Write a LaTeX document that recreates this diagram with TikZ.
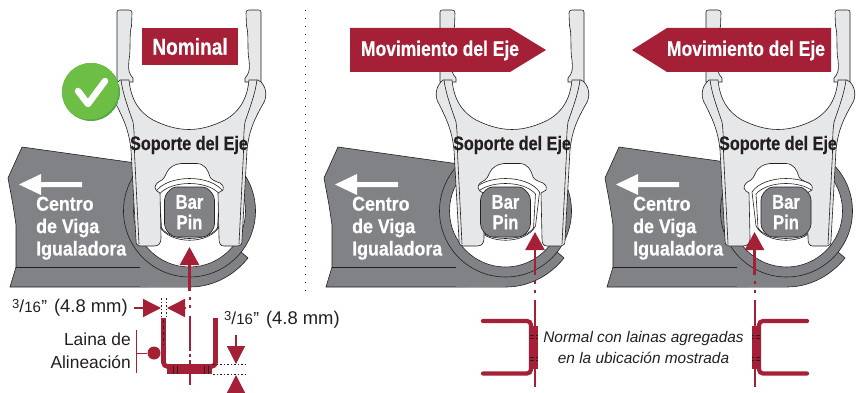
\documentclass[tikz,border=0pt]{standalone}
\usepackage{fontspec}
\setmainfont{Liberation Sans}
\newfontfamily\condfont[FakeStretch=0.83, BoldFeatures={FakeBold=0.5}]{Liberation Sans}
\newfontfamily\anchofont[FakeStretch=0.89, BoldFeatures={FakeBold=0.5}]{Liberation Sans}
\usetikzlibrary{arrows.meta}
\definecolor{rojoeje}{HTML}{A51F36}
\definecolor{grisviga}{HTML}{808285}
\definecolor{grissoporte}{HTML}{E6E7E8}
\definecolor{tinta}{HTML}{231F20}
\definecolor{verdeok}{HTML}{6DBE45}
\definecolor{verdeosc}{HTML}{54A845}
\newcommand{\espesor}{\raisebox{4pt}{\fontsize{13}{13}\selectfont 3}/{\fontsize{15}{13}\selectfont 16}\kern0.5pt{"}\kern2pt{} {\fontsize{18.4}{23}\selectfont (4.8 mm)}}
\tikzset{
    linea/.style={draw=tinta, line width=0.6pt},
    flecha/.style={draw=rojoeje, line width=2.4pt, -{Triangle[length=18pt,width=19pt]}},
    cota/.style={draw=rojoeje, line width=1.4pt, -{Triangle[length=18pt,width=18pt]}},
    eje/.style={draw=rojoeje, line width=2pt},
    puntos/.style={draw=tinta, line width=0.7pt, dash pattern=on 1.5pt off 2pt},
    blanco/.style={font=\condfont\fontsize{20}{20}\selectfont\bfseries, text=white, inner sep=0pt},
    banner/.style={font=\condfont\fontsize{21}{22}\selectfont\bfseries, text=white, inner sep=0pt},
    medida/.style={font=\fontsize{17.4}{23}\selectfont, text=tinta, inner sep=0pt},
    pics/viga/.style={code={
        \fill[grisviga] (22,147) -- (150,165) -- (150,287) -- (10,287) -- (16,267)
            -- (16,225) -- (13,205) -- (8,178) -- cycle;
        \draw[linea] (150,165) -- (22,147) -- (8,178) -- (13,205) -- (16,225) -- (16,267) -- (10,287) -- (190,287);
        \draw[linea] (16,267) -- (150,267);
        \fill[grisviga] (241,252) -- (248,258) .. controls (232,278) and (210,287) .. (190,287)
            -- (140,287) -- (140,262) -- cycle;
        \draw[linea] (241,252) -- (248,258) .. controls (232,278) and (210,287) .. (190,287);
        \fill[grisviga, linea] (189.5,211) circle[radius=66];
        \fill[white, linea] (189.5,211) circle[radius=56];
        \fill[white] (41,174) -- (19,184.5) -- (41,195) -- (41,187) -- (82,187) -- (82,182) -- (41,182) -- cycle;
        \node[font=\anchofont\fontsize{20}{20}\selectfont\bfseries, text=white, inner sep=0pt, anchor=north west, align=left] (viga) at (36,196.5) {Centro\\[2.4pt]de Viga\\[2.4pt]Igualadora};
    }},
    pics/soporte/.style={code={
        % horquilla superior
        \foreach \lado in {-1,1}{
            \fill[grissoporte, linea] (\lado*72,82) -- (\lado*72,12) .. controls (\lado*72,10.5) and (\lado*71,10) .. (\lado*69,10)
                -- (\lado*60,10) .. controls (\lado*58,10) and (\lado*57,11) .. (\lado*57,13) -- (\lado*57.5,26)
                .. controls (\lado*60,34) and (\lado*58,50) .. (\lado*60,60) .. controls (\lado*61,70) and (\lado*60,74) .. (\lado*56,78)
                -- (\lado*56,82) -- cycle;
        }
        \fill[grissoporte, linea] (-60,80) .. controls (-58,100) and (-50,112) .. (-36,120)
            .. controls (-24,126) and (-12,129.5) .. (0,129.5) .. controls (12,129.5) and (24,126) .. (36,120)
            .. controls (50,112) and (58,100) .. (60,80) -- (69,80) -- (72,82)
            .. controls (78,88) and (78,98) .. (74,104) .. controls (66,118) and (60,130) .. (58,150)
            -- (53,240) .. controls (53,244) and (52,246) .. (49,246) -- (35,246) .. controls (31,246) and (30,243) .. (30,238)
            -- (29,193) -- (34,190) .. controls (35,186) and (33,184) .. (31,183) .. controls (25,181) and (22,179) .. (21,177)
            .. controls (19,170) and (16,164) .. (8,163.5) -- (-8,163.5) .. controls (-15,164) and (-20,168) .. (-22,172)
            .. controls (-24,176) and (-25,179) .. (-27,180) .. controls (-31,182) and (-34,184) .. (-34,188)
            .. controls (-34,190) and (-31,192) .. (-29,193) -- (-28,238) .. controls (-28,243) and (-30,246) .. (-35,246)
            -- (-49,246) .. controls (-52,246) and (-53,244) .. (-53,240) -- (-58,150)
            .. controls (-60,130) and (-66,118) .. (-73,104) .. controls (-77,98) and (-77,88) .. (-71,82)
            -- (-69,80) -- cycle;
        \foreach \lado in {-1,1}{
            \draw[linea] (\lado*68,80) .. controls (\lado*66,95) and (\lado*60,110) .. (\lado*56,122)
                .. controls (\lado*54,135) and (\lado*55,150) .. (\lado*54,163) -- (\lado*50,244);
        }
        \node[font=\condfont\fontsize{19.5}{20}\selectfont\bfseries, text=tinta, inner sep=0pt] (etiqueta) at (0,145) {Soporte del Eje};
    }},
    pics/anillo/.style={code={
        \fill[white, linea] (-34,-20) .. controls (-22,-38) and (22,-38) .. (34,-20) -- (30,14)
            .. controls (20,33) and (-20,33) .. (-30,14) -- cycle;
        \fill[white, linea] (-30,-18) .. controls (-18,-32) and (18,-32) .. (30,-18) -- (28,16)
            .. controls (18,30) and (-18,30) .. (-28,16) -- cycle;
    }},
    pics/barpin/.style={code={
        \fill[grisviga, linea, rounded corners=4pt] (-17,-25) -- (17,-25) -- (25,-16) -- (25,16) -- (17,25)
            -- (-17,25) -- (-25,16) -- (-25,-16) -- cycle;
        \node[blanco] (bar) at (0,-10) {Bar};
        \node[blanco] (pin) at (0,10) {Pin};
    }},
    pics/canal/.style={code={
        \draw[rojoeje, line width=4.2pt, rounded corners=4pt, line cap=round] (-52,321) -- (-4,321) -- (-4,373.5) -- (-52,373.5);
        \fill[rojoeje] (-4,326) rectangle (3,369);
        \foreach \yy in {335,338,357,360}{
            \draw[tinta, line width=0.5pt] (-5,\yy) -- (3,\yy);
        }
    }},
}
\begin{document}
\begin{tikzpicture}[x=1pt, y=-1pt]
    \useasboundingbox (0,0) rectangle (856,393);

    % separador
    \draw[tinta, line width=1.1pt, dash pattern=on 1.2pt off 6.8pt] (305.5,10) -- (305.5,293);

    % nominal
    \pic at (0,0) {viga};
    \pic at (189.5,212) {anillo};
    \pic at (189,0) {soporte};
    \pic at (189.5,212) {barpin};
    \node[fill=rojoeje, text=white, font=\condfont\fontsize{23}{24}\selectfont\bfseries,
        minimum width=96pt, minimum height=37pt, inner sep=0pt] (nominal) at (190,46.5) {Nominal};
    \begin{scope}
        \clip (91,92) circle[radius=29];
        \fill[verdeosc] (91,92) circle[radius=29];
        \fill[verdeok] (89.5,90.5) circle[radius=29];
    \end{scope}
    \draw[white, line width=6.5pt, line cap=round, line join=round] (78,91) -- (88,104) -- (105,81);

    % movimiento a la derecha
    \pic at (316,0) {viga};
    \pic at (505.5,212) {anillo};
    \pic at (512,0) {soporte};
    \pic at (505.5,212) {barpin};
    \fill[rojoeje] (350,28) -- (510,28) -- (546,50) -- (510,72) -- (350,72) -- cycle;
    \node[banner] (mover) at (440,50.5) {Movimiento del Eje};

    % movimiento a la izquierda
    \pic at (597,0) {viga};
    \pic at (786,212) {anillo};
    \pic at (778,0) {soporte};
    \pic at (786,212) {barpin};
    \fill[rojoeje] (831,28) -- (667,28) -- (632,50) -- (667,72) -- (831,72) -- cycle;
    \node[banner] (movel) at (746,50.5) {Movimiento del Eje};

    % canales con lainas
    \pic at (535,0) {canal};
    \pic[xscale=-1] at (755,0) {canal};
    \node[font=\itshape\fontsize{15.4}{21}\selectfont, text=tinta, align=center, inner sep=0pt] (nota) at (643.5,347.5)
        {Normal con lainas agregadas\\en la ubicación mostrada};

    % canal nominal y cotas
    \draw[rojoeje, line width=4.6pt, rounded corners=4pt] (163.5,318) -- (163.5,366.5) -- (215.5,366.5) -- (215.5,318);
    \fill[rojoeje] (167,366) rectangle (212,374);
    \foreach \xx in {173,177,204,208}{
        \draw[tinta, line width=0.5pt] (\xx,366) -- (\xx,374);
    }
    \draw[tinta, line width=0.6pt, dashed] (163.5,320) -- (163.5,345);

    % flechas al centro
    \draw[flecha] (189.5,291) -- (189.5,247);
    \draw[flecha] (535,275) -- (535,232);
    \draw[flecha] (754.5,275) -- (754.5,232);
    \draw[eje, dash pattern=on 3pt off 5pt on 3pt off 8pt on 35pt off 3pt on 3pt off 3pt on 25pt] (189.5,297) -- (189.5,388);
    \foreach \xx in {535,754.5}{
        \draw[eje, dash pattern=on 3pt off 6pt on 3pt off 7pt on 90pt] (\xx,281) -- (\xx,387);
    }

    \draw[puntos] (161,298) -- (161,316);
    \draw[puntos] (166.5,298) -- (166.5,316);
    \draw[puntos] (213,364.5) -- (245,364.5);
    \draw[puntos] (213,374.5) -- (245,374.5);
    \draw[cota] (134,308) -- (161,308);
    \draw[cota] (185.5,308) -- (167,308);
    \draw[cota] (236,335) -- (236,364);
    \draw[cota] (236,394) -- (236,375);
    \node[medida, anchor=west] (espa) at (12,307.5) {\espesor};
    \node[medida, anchor=west] (espb) at (224,319.5) {\espesor};
    \node[medida, anchor=east, align=right] (laina) at (131,350.5) {Laina de\\Alineación};
    \coordinate (llave) at (136,353);
    \draw[rojoeje, line width=1pt] (136,330) -- (136,373);
    \node[circle, fill=rojoeje, minimum size=13pt, inner sep=0pt] (punto) at (154,353) {};
    \draw[rojoeje, line width=1pt] (llave) -- (punto);
\end{tikzpicture}
\end{document}
